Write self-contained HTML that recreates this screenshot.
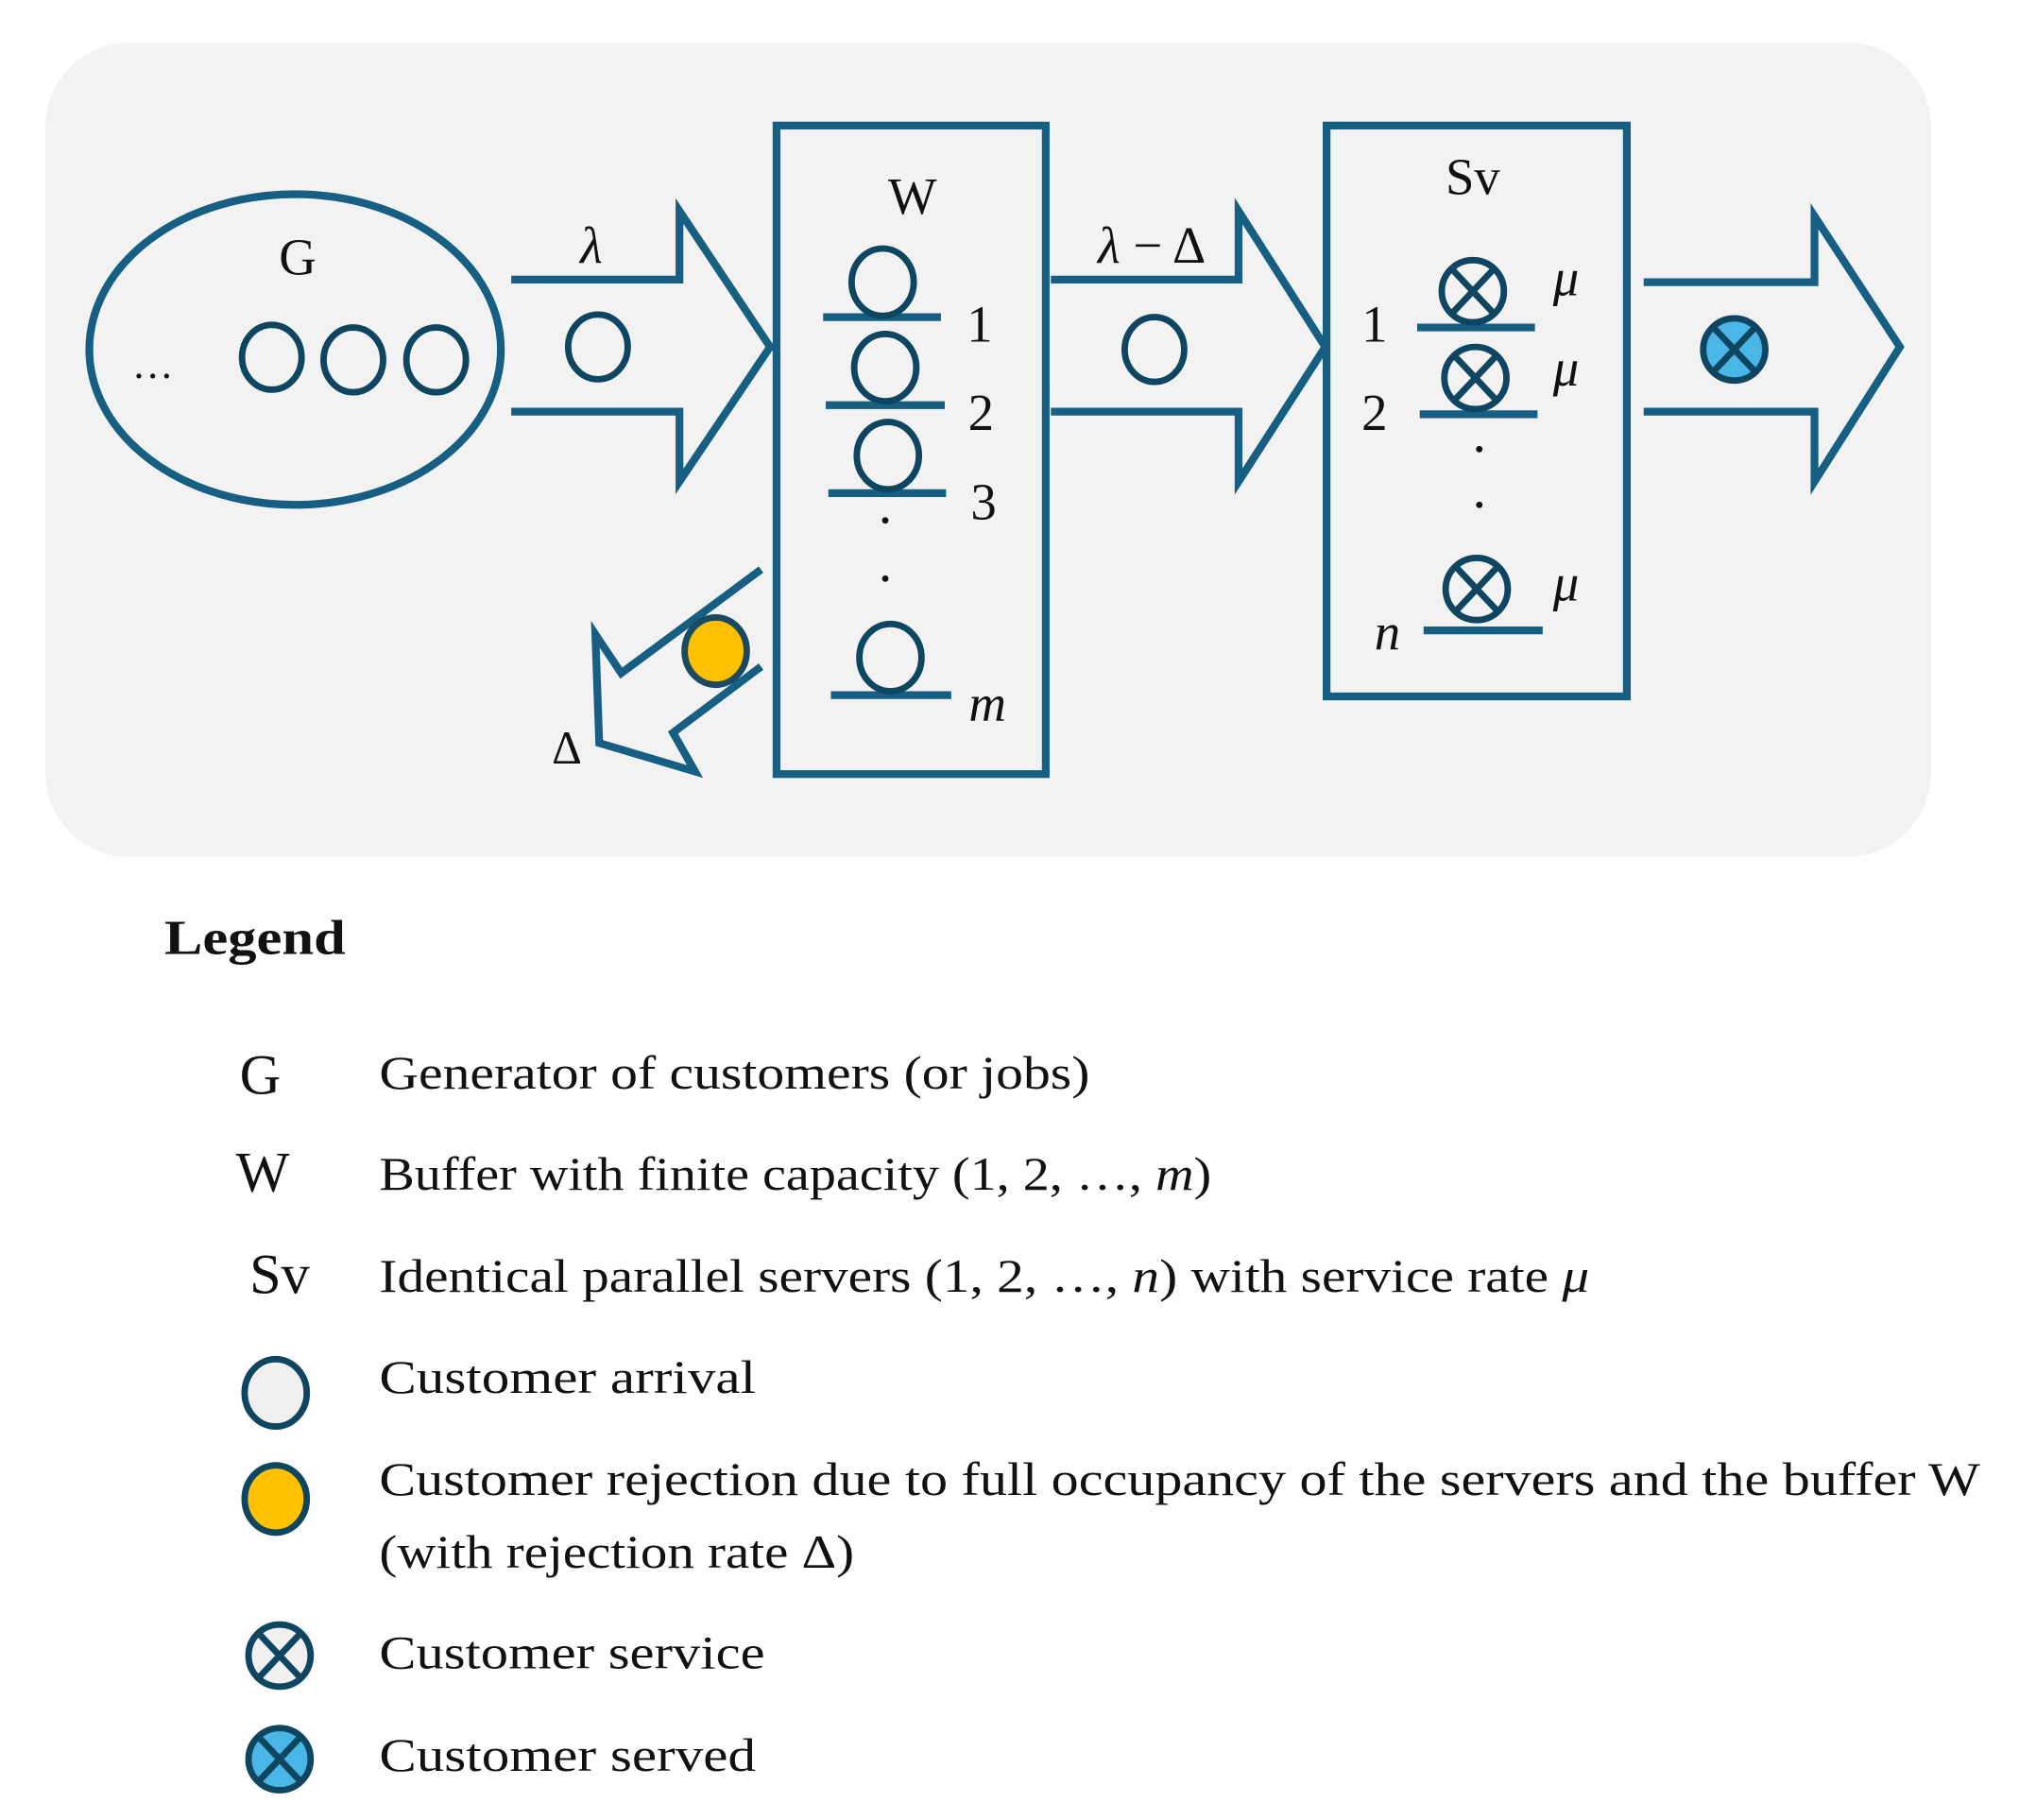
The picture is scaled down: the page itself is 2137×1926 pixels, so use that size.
<!DOCTYPE html>
<html><head><meta charset="utf-8"><style>
html,body{margin:0;padding:0;background:#fff;}
svg{display:block;}
text{font-family:"Liberation Serif",serif;fill:#111;}
</style></head><body>
<svg width="2137" height="1926" viewBox="0 0 1560 1406" xmlns="http://www.w3.org/2000/svg">
<defs>
<g id="cx"><circle r="24" fill="none" stroke="#0e4560" stroke-width="5"/><line x1="-16" y1="-17" x2="16" y2="17" stroke="#0e4560" stroke-width="5"/><line x1="16" y1="-17" x2="-16" y2="17" stroke="#0e4560" stroke-width="5"/></g>
</defs>
<rect x="35" y="33" width="1457" height="629" rx="65" fill="#f2f2f2"/>
<g fill="none" stroke="#165f82" stroke-width="6">
<ellipse cx="228" cy="270" rx="159" ry="120"/>
<polyline points="395,216 525,216 525,163 595,268 525,372 525,318 395,318"/>
<rect x="600" y="97" width="208" height="501"/>
<polyline points="812,216 957,216 957,163 1024,268 957,372 957,318 812,318"/>
<rect x="1025" y="97" width="232" height="441"/>
<polyline points="1270,218 1402,218 1402,167 1468,268 1402,372 1402,318 1270,318"/>
<polyline points="588,440 480,520 460,490 463,574 537,596 520,566 588,515"/>
<line x1="636" y1="245" x2="727" y2="245"/>
<line x1="638" y1="313" x2="730" y2="313"/>
<line x1="640" y1="381" x2="731" y2="381"/>
<line x1="642" y1="537" x2="735" y2="537"/>
<line x1="1095" y1="253" x2="1186" y2="253"/>
<line x1="1097" y1="320" x2="1188" y2="320"/>
<line x1="1100" y1="487" x2="1192" y2="487"/>
</g>
<g fill="none" stroke="#0e4560" stroke-width="5">
<ellipse cx="210" cy="276" rx="23" ry="25"/>
<ellipse cx="273" cy="278" rx="23" ry="25"/>
<ellipse cx="337" cy="278" rx="23" ry="25"/>
<ellipse cx="462" cy="268" rx="23" ry="25"/>
<ellipse cx="892" cy="270" rx="23" ry="25"/>
<ellipse cx="682" cy="218" rx="24" ry="26"/>
<ellipse cx="684" cy="284" rx="24" ry="26"/>
<ellipse cx="686" cy="352" rx="24" ry="26"/>
<ellipse cx="688" cy="508" rx="24" ry="26"/>
</g>
<ellipse cx="553" cy="503" rx="24" ry="26" fill="#ffc000" stroke="#1a4a60" stroke-width="5"/>
<use href="#cx" x="1138" y="225"/>
<use href="#cx" x="1140" y="292"/>
<use href="#cx" x="1141" y="455"/>
<circle cx="1340" cy="270" r="24" fill="#4ab6e6"/>
<use href="#cx" x="1340" y="270"/>
<g fill="#111">
<circle cx="684" cy="402" r="2.5"/><circle cx="684" cy="447" r="2.5"/>
<circle cx="1143" cy="347" r="2.5"/><circle cx="1143" cy="390" r="2.5"/>
</g>
<g font-size="40">
<text x="230" y="212" text-anchor="middle">G</text>
<text x="118" y="292" text-anchor="middle" font-size="32">…</text>
<text x="457" y="203" text-anchor="middle" font-style="italic">λ</text>
<text x="705" y="165" text-anchor="middle">W</text>
<text x="757" y="264" text-anchor="middle">1</text>
<text x="758" y="332" text-anchor="middle">2</text>
<text x="760" y="401" text-anchor="middle">3</text>
<text x="763" y="557" text-anchor="middle" font-style="italic">m</text>
<text x="438" y="590" text-anchor="middle" font-size="36">Δ</text>
<text x="890" y="203" text-anchor="middle"><tspan font-style="italic">λ</tspan> − Δ</text>
<text x="1138" y="150" text-anchor="middle">Sv</text>
<text x="1062" y="264" text-anchor="middle">1</text>
<text x="1062" y="332" text-anchor="middle">2</text>
<text x="1072" y="502" text-anchor="middle" font-style="italic">n</text>
<text x="1210" y="228" text-anchor="middle" font-style="italic">μ</text>
<text x="1210" y="298" text-anchor="middle" font-style="italic">μ</text>
<text x="1210" y="464" text-anchor="middle" font-style="italic">μ</text>
</g>
<text x="127" y="737" font-size="38" font-weight="bold" textLength="140" lengthAdjust="spacingAndGlyphs">Legend</text>
<g font-size="44">
<text x="201" y="845" text-anchor="middle">G</text>
<text x="203" y="920" text-anchor="middle">W</text>
<text x="216" y="999" text-anchor="middle">Sv</text>
</g>
<g font-size="36">
<text x="293" y="841" textLength="549" lengthAdjust="spacingAndGlyphs">Generator of customers (or jobs)</text>
<text x="293" y="919" textLength="643" lengthAdjust="spacingAndGlyphs">Buffer with finite capacity (1, 2, …, <tspan font-style="italic">m</tspan>)</text>
<text x="293" y="998" textLength="935" lengthAdjust="spacingAndGlyphs">Identical parallel servers (1, 2, …, <tspan font-style="italic">n</tspan>) with service rate <tspan font-style="italic">μ</tspan></text>
<text x="293" y="1076" textLength="291" lengthAdjust="spacingAndGlyphs">Customer arrival</text>
<text x="293" y="1155" textLength="1237" lengthAdjust="spacingAndGlyphs">Customer rejection due to full occupancy of the servers and the buffer W</text>
<text x="293" y="1211" textLength="367" lengthAdjust="spacingAndGlyphs">(with rejection rate Δ)</text>
<text x="293" y="1289" textLength="298" lengthAdjust="spacingAndGlyphs">Customer service</text>
<text x="293" y="1368" textLength="291" lengthAdjust="spacingAndGlyphs">Customer served</text>
</g>
<ellipse cx="213" cy="1076" rx="24" ry="26" fill="#f0f0f0" stroke="#0e4560" stroke-width="5"/>
<ellipse cx="213" cy="1158" rx="24" ry="26" fill="#ffc000" stroke="#0e4560" stroke-width="5"/>
<circle cx="216" cy="1279" r="24" fill="#f0f0f0"/>
<use href="#cx" x="216" y="1279"/>
<circle cx="216" cy="1359" r="24" fill="#4ab6e6"/>
<use href="#cx" x="216" y="1359"/>
</svg>
</body></html>
